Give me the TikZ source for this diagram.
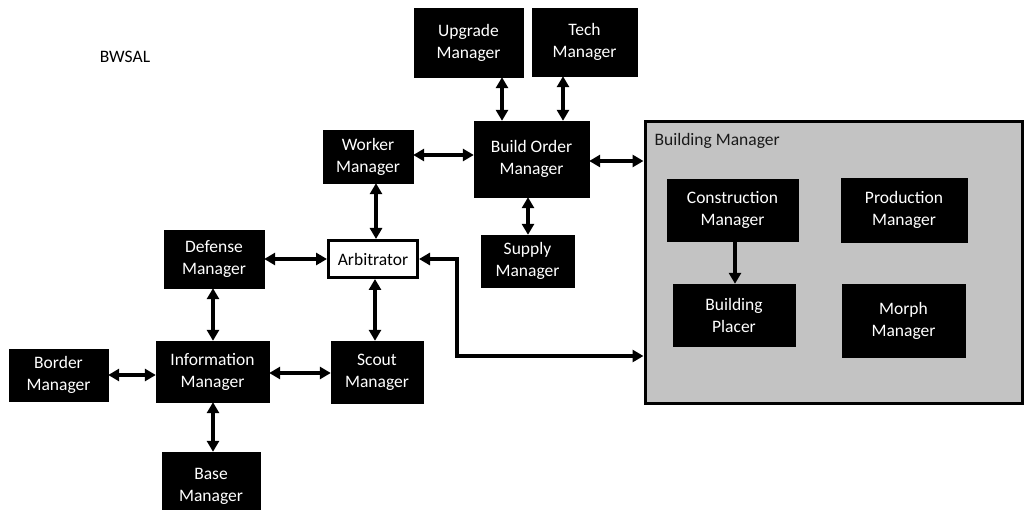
\documentclass[tikz,border=0pt]{standalone}
\usepackage{fontspec}
\setmainfont{Carlito}
\usetikzlibrary{arrows.meta}
\begin{document}
\begin{tikzpicture}[x=1pt,y=-1pt,
  box/.style={fill=black,draw=black,text=white,inner sep=0pt,align=center,
    font=\fontsize{17.5}{22}\selectfont},
  dbl/.style={line width=3.2pt,{Triangle[length=11pt,width=12pt]}-{Triangle[length=11pt,width=12pt]}},
  sgl/.style={line width=3.2pt,-{Triangle[length=11pt,width=12pt]}}]
\useasboundingbox (0,0) rectangle (1024,510);
\fill[white] (0,0) rectangle (1024,510);
\node[font=\fontsize{17.5}{22}\selectfont] (title) at (125,57) {BWSAL};
% building manager container
\node[fill={rgb,255:red,195;green,195;blue,195},draw=black,line width=3pt,inner sep=0pt,
  minimum width=377pt,minimum height=281pt,anchor=north west] (bm) at (643.5,120.5) {};
\node[anchor=west,text={rgb,255:red,25;green,25;blue,25},font=\fontsize{17.5}{22}\selectfont] (bmlabel) at (651,141) {Building Manager};
% boxes
\node[box,minimum width=109pt,minimum height=69pt] (upgrade) at (468.5,42.5) {Upgrade\\Manager};
\node[box,minimum width=105pt,minimum height=68pt] (tech) at (584.5,42) {Tech\\Manager};
\node[box,minimum width=90pt,minimum height=53pt] (worker) at (368,156.5) {Worker\\Manager};
\node[box,minimum width=115pt,minimum height=76pt] (bom) at (531.5,159) {Build Order\\Manager};
\node[box,minimum width=93pt,minimum height=52pt] (supply) at (527.5,261) {Supply\\Manager};
\node[box,fill=white,text=black,line width=3pt,minimum width=89pt,minimum height=37pt] (arb) at (373,259) {Arbitrator};
\node[box,minimum width=100pt,minimum height=58pt] (defense) at (214,259) {Defense\\Manager};
\node[box,minimum width=99pt,minimum height=52pt] (border) at (58.5,375) {Border\\Manager};
\node[box,minimum width=113pt,minimum height=61pt] (info) at (212.5,371.5) {Information\\Manager};
\node[box,minimum width=92pt,minimum height=62pt] (scout) at (377,372) {Scout\\Manager};
\node[box,minimum width=98pt,minimum height=68pt] (base) at (211,486) {Base\\Manager};
\node[box,minimum width=131pt,minimum height=62pt] (construct) at (732.5,210) {Construction\\Manager};
\node[box,minimum width=126pt,minimum height=64pt] (production) at (904,210) {Production\\Manager};
\node[box,minimum width=122pt,minimum height=62pt] (placer) at (734,315) {Building\\Placer};
\node[box,minimum width=123pt,minimum height=73pt] (morph) at (903.5,320.5) {Morph\\Manager};
% connectors
\draw[dbl] (upgrade.south -| 502,0) -- (bom.north -| 502,0);
\draw[dbl] (tech.south -| 563,0) -- (bom.north -| 563,0);
\draw[dbl] (worker.east |- 0,155) -- (bom.west |- 0,155);
\draw[dbl] (bom.south -| 528,0) -- (supply.north -| 528,0);
\draw[dbl] (bom.east |- 0,161) -- (bm.west |- 0,161);
\draw[dbl] (worker.south -| 376,0) -- (arb.north -| 376,0);
\draw[dbl] (defense.east) -- (arb.west);
\draw[dbl] (arb.south -| 375,0) -- (scout.north -| 375,0);
\draw[dbl] (defense.south -| 213,0) -- (info.north -| 213,0);
\draw[dbl] (info.south -| 213,0) -- (base.north -| 213,0);
\draw[dbl] (border.east) -- (info.west |- border.east);
\draw[dbl] (info.east |- 0,373) -- (scout.west |- 0,373);
\coordinate (bend) at (457,356);
\draw[dbl] (arb.east) -- (arb.east -| bend) -- (bend) -- (bend -| bm.west);
\draw[sgl] (construct.south -| 735,0) -- (placer.north -| 735,0);
\end{tikzpicture}
\end{document}
